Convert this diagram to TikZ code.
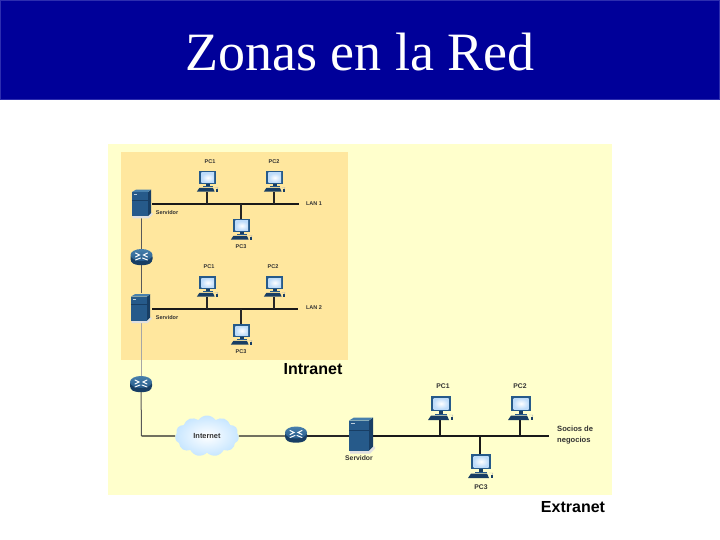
\documentclass[tikz,border=0pt]{standalone}
\usepackage{fontspec}
\setmainfont{Liberation Serif}
\setsansfont{Liberation Sans}
\usetikzlibrary{shapes.symbols}
\definecolor{barblue}{RGB}{0,0,153}
\definecolor{barline}{RGB}{45,45,175}
\definecolor{paleyellow}{RGB}{255,255,204}
\definecolor{panelyellow}{RGB}{255,231,158}
\definecolor{devblue}{RGB}{38,90,138}
\definecolor{devdark}{RGB}{24,62,100}
\definecolor{devlight}{RGB}{72,128,172}
\definecolor{screenblue}{RGB}{190,220,250}
\definecolor{textgrey}{RGB}{50,50,50}
\tikzset{
  tag/.style={font=\sffamily\bfseries\fontsize{5.5}{6}\selectfont,text=textgrey,inner sep=0pt,align=left},
  bigtag/.style={tag,font=\sffamily\bfseries\fontsize{6.8}{10.5}\selectfont},
  zone/.style={font=\sffamily\bfseries\fontsize{16}{18}\selectfont,text=black,inner sep=0pt},
  pcnode/.style={inner sep=0pt,minimum width=17pt,minimum height=21pt},
  bigpcnode/.style={inner sep=0pt,minimum width=20pt,minimum height=24pt},
  servernode/.style={inner sep=0pt,minimum width=19pt,minimum height=27pt},
  routernode/.style={inner sep=0pt,minimum width=22pt,minimum height=15pt},
  bus/.style={line width=1.4pt,black!90},
  drop/.style={line width=1.2pt,black!85},
  riser/.style={line width=1pt,black!65},
  faint/.style={line width=1pt,black!35},
  pc/.pic={
    \fill[devblue] (-9,-12) rectangle (11,3);
    \shade[inner color=white,outer color=screenblue] (-6.5,-10) rectangle (8.5,1);
    \fill[devdark] (-1,3) rectangle (3,6);
    \fill[devblue] (-5,5.5) rectangle (7,7);
    \fill[devdark] (-9,7.5) -- (7,7.5) -- (9,12) -- (-12,12) -- cycle;
    \fill[devdark] (10.5,9) rectangle (13,12);
    \draw[black!30,line width=0.3pt] (9,7) -- (13,7) -- (12,9);
  },
  server/.pic={
    \fill[black!12] (-11,17) -- (8,17) -- (12,13) -- (14,13) -- (14,15) -- (9,20) -- (-11,20) -- cycle;
    \fill[devdark] (8,-13) -- (12,-16) -- (12,13) -- (8,17) -- cycle;
    \fill[devlight] (-12,-13) -- (-7,-16) -- (12,-16) -- (8,-13) -- cycle;
    \fill[devblue] (-12,-13) rectangle (8,17);
    \draw[devdark,line width=0.4pt] (-12,-3) -- (8,-3);
    \draw[white!70!devblue,line width=0.5pt] (-10,-10) -- (-6,-10);
  },
  router/.pic={
    \fill[devdark,rounded corners=3pt] (-11,-3) -- (-11,5) -- (-6,8) -- (6,8) -- (11,5) -- (11,-3) -- cycle;
    \shade[top color=devlight,bottom color=devblue] (0,-2) ellipse [x radius=11,y radius=6];
    \draw[white,line width=1pt,line cap=round] (-6,-4) -- (-2,-2) -- (-6,0);
    \draw[white,line width=1pt,line cap=round] (6,-4) -- (2,-2) -- (6,0);
    \draw[white,line width=1pt,line cap=round] (-6,3) -- (-1,1);
    \draw[white,line width=1pt,line cap=round] (6,3) -- (1,1);
  },
}
\begin{document}
\begin{tikzpicture}[x=1pt,y=-1pt]
  \useasboundingbox (0,0) rectangle (720,540);
  \fill[white] (0,0) rectangle (720,540);
  % Title bar
  \fill[barblue] (0,0) rectangle (720,99.5);
  \draw[barline,line width=1pt] (0.5,0.5) rectangle (719.5,99.5);
  \node[text=white,inner sep=0pt,font=\fontsize{54}{60}\selectfont] (title) at (360,52) {Zonas en la Red};
  % Zones
  \fill[paleyellow] (108,144) rectangle (612,495);
  \fill[panelyellow] (121,152) rectangle (348,359.5);
  % Devices
  \foreach \n/\x/\y in {pcAa/207/181.5,pcAb/274/181.5,pcAc/241/229.5,pcBa/207/286.5,pcBb/274/286.5,pcBc/241/334.5}
    \node[pcnode] (\n) at (\x,\y) {};
  \foreach \n/\x/\y in {pcCa/440/408,pcCb/520/408,pcCc/480/466}
    \node[bigpcnode] (\n) at (\x,\y) {};
  \node[servernode] (serverA) at (141.5,202.5) {};
  \node[servernode] (serverB) at (140.5,307) {};
  \node[inner sep=0pt,minimum width=24pt,minimum height=33pt] (serverC) at (361,433.5) {};
  \node[routernode] (routerA) at (141.5,257) {};
  \node[routernode] (routerB) at (141,384) {};
  \node[routernode] (routerC) at (296,434.5) {};
  \node[cloud,cloud puffs=11,cloud puff arc=110,aspect=1.55,minimum width=64pt,minimum height=41pt,inner sep=0pt,
    inner color=white,outer color=blue!45!cyan!22!white,font=\sffamily\bfseries\fontsize{7.4}{8}\selectfont,text=textgrey] (internet) at (207,436) {Internet};
  % Bus ends
  \coordinate (lanAl) at (152,204);
  \coordinate (lanAr) at (299,204);
  \coordinate (lanBl) at (152,309);
  \coordinate (lanBr) at (298,309);
  \coordinate (lanCr) at (549,436);
  \coordinate (corner) at (141.5,436);
  % Connectors
  \draw[riser] (serverA) -- (routerA);
  \draw[riser] (routerA) -- (routerA |- serverB.north);
  \draw[faint] (serverB.south -| routerB) -- (routerB);
  \draw[riser] (routerB) -- (corner);
  \draw[drop] (corner) -- (internet);
  \draw[drop] (internet) -- (routerC.west |- corner);
  \draw[drop] (routerC.east |- corner) -- (serverC.west |- corner);
  \draw[bus] (lanAl) -- (lanAr);
  \draw[bus] (lanBl) -- (lanBr);
  \draw[bus] (serverC.east |- lanCr) -- (lanCr);
  \foreach \n in {pcAa,pcAb} \draw[drop] (\n) -- (\n |- lanAl);
  \draw[drop] (pcAc) -- (pcAc |- lanAl);
  \foreach \n in {pcBa,pcBb} \draw[drop] (\n) -- (\n |- lanBl);
  \draw[drop] (pcBc) -- (pcBc |- lanBl);
  \foreach \n in {pcCa,pcCb,pcCc} \draw[bus] (\n) -- (\n |- lanCr);
  % Icons on top of the lines
  \foreach \n in {pcAa,pcAb,pcAc,pcBa,pcBb,pcBc} \pic[scale=0.85] at (\n) {pc};
  \foreach \n in {pcCa,pcCb,pcCc} \pic at (\n) {pc};
  \pic[scale=0.8] at (serverA) {server};
  \pic[scale=0.8] at (serverB) {server};
  \pic at (serverC) {server};
  \foreach \n in {routerA,routerB,routerC} \pic at (\n) {router};
  % Labels
  \foreach \n/\x/\y/\t in {tagAa/210/162/PC1,tagAb/274/162/PC2,tagAc/241/247/PC3,tagBa/209/267/PC1,tagBb/273/267/PC2,tagBc/241/352/PC3,
    tagAl/314/204/LAN 1,tagBl/314/308/LAN 2,tagAs/167/213/Servidor,tagBs/167/318/Servidor}
    \node[tag] (\n) at (\x,\y) {\t};
  \foreach \n/\x/\y/\t in {tagCa/443/386/PC1,tagCb/520/386/PC2,tagCc/481/487/PC3,tagCs/359/458.5/Servidor}
    \node[bigtag] (\n) at (\x,\y) {\t};
  \node[bigtag,anchor=west,font=\sffamily\bfseries\fontsize{7.6}{10.5}\selectfont] (socios) at (557,435) {Socios de\\negocios};
  \node[zone] (intranet) at (313,369) {Intranet};
  \node[zone] (extranet) at (573,507.5) {Extranet};
\end{tikzpicture}
\end{document}
